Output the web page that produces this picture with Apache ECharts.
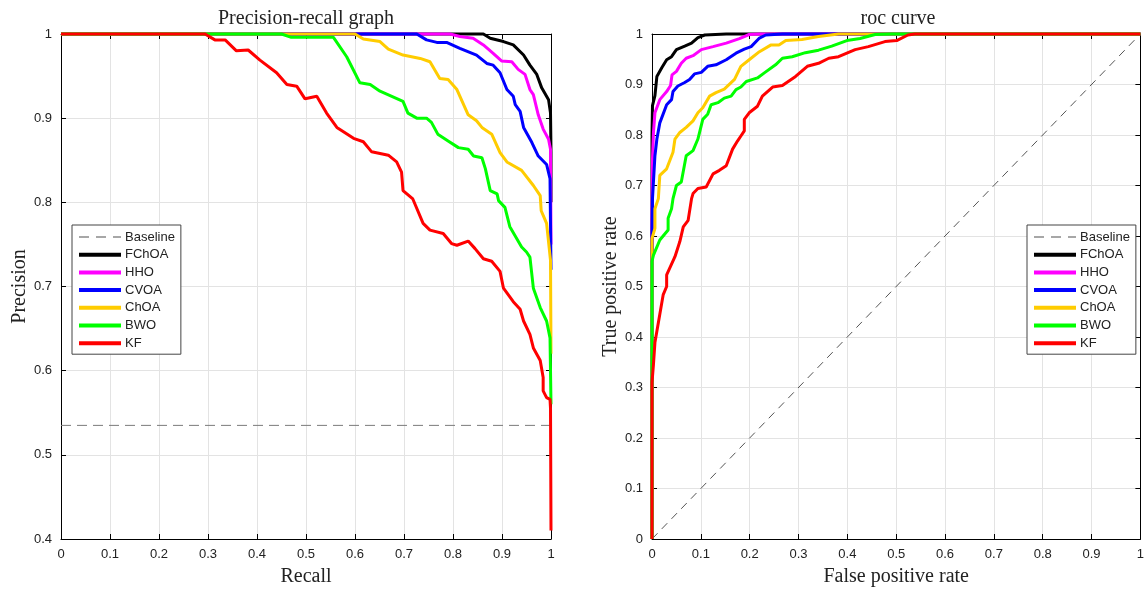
<!DOCTYPE html>
<html><head><meta charset="utf-8">
<script src="https://cdn.jsdelivr.net/npm/echarts@6/dist/echarts.min.js"></script>
<style>html,body{margin:0;padding:0;background:#fff}#c{width:1147px;height:592px}</style>
</head><body><div id="c"></div>
<script>
// ---------- Data ----------
const seriesNames = ['Baseline','FChOA','HHO','CVOA','ChOA','BWO','KF'];

// Precision-recall curves: [recall, precision]
const prBaseline = [[0,0.535],[1,0.535]];
const prFChOA = [[0,1],[0.862,1],[0.876,0.995],[0.903,0.991],[0.923,0.987],[0.944,0.975],[0.957,0.963],[0.971,0.952],[0.981,0.936],[0.995,0.922],[0.999,0.906],[1,0.86],[1,0.80]];
const prHHO = [[0,1],[0.794,1],[0.814,0.997],[0.841,0.995],[0.862,0.987],[0.882,0.977],[0.899,0.968],[0.920,0.967],[0.933,0.958],[0.947,0.952],[0.957,0.934],[0.964,0.928],[0.974,0.904],[0.984,0.887],[0.995,0.875],[0.999,0.863],[1,0.75]];
const prCVOA = [[0,1],[0.726,1],[0.746,0.993],[0.767,0.990],[0.787,0.990],[0.814,0.983],[0.848,0.975],[0.869,0.965],[0.882,0.963],[0.896,0.954],[0.910,0.934],[0.923,0.926],[0.927,0.916],[0.937,0.908],[0.944,0.889],[0.961,0.871],[0.974,0.855],[0.991,0.845],[0.998,0.828],[1,0.72]];
const prChOA = [[0,1],[0.60,1],[0.617,0.994],[0.651,0.991],[0.668,0.982],[0.698,0.975],[0.733,0.971],[0.753,0.967],[0.773,0.947],[0.790,0.946],[0.808,0.934],[0.831,0.904],[0.848,0.897],[0.859,0.889],[0.879,0.881],[0.896,0.859],[0.910,0.848],[0.940,0.838],[0.964,0.820],[0.978,0.808],[0.980,0.790],[0.991,0.775],[0.999,0.731],[1,0.62]];
const prBWO = [[0,1],[0.45,1],[0.47,0.996],[0.556,0.996],[0.583,0.973],[0.610,0.942],[0.631,0.940],[0.651,0.932],[0.698,0.920],[0.708,0.906],[0.726,0.900],[0.746,0.900],[0.756,0.895],[0.769,0.881],[0.790,0.873],[0.811,0.865],[0.831,0.863],[0.842,0.855],[0.859,0.853],[0.866,0.840],[0.876,0.814],[0.890,0.810],[0.893,0.802],[0.906,0.794],[0.916,0.771],[0.940,0.747],[0.950,0.741],[0.957,0.735],[0.964,0.698],[0.978,0.675],[0.991,0.659],[0.998,0.639],[1,0.56]];
const prKF = [[0,1],[0.294,1],[0.314,0.993],[0.335,0.993],[0.358,0.980],[0.382,0.981],[0.406,0.969],[0.44,0.954],[0.461,0.940],[0.481,0.938],[0.498,0.923],[0.522,0.926],[0.542,0.906],[0.563,0.889],[0.597,0.876],[0.617,0.872],[0.634,0.860],[0.668,0.856],[0.685,0.848],[0.695,0.836],[0.698,0.814],[0.718,0.804],[0.739,0.775],[0.753,0.767],[0.780,0.763],[0.797,0.751],[0.808,0.749],[0.831,0.754],[0.845,0.745],[0.862,0.733],[0.879,0.730],[0.896,0.718],[0.903,0.698],[0.923,0.682],[0.937,0.673],[0.944,0.659],[0.957,0.643],[0.964,0.627],[0.978,0.612],[0.984,0.592],[0.984,0.576],[0.991,0.568],[0.998,0.566],[0.999,0.555],[1,0.41]];

// ROC curves: [false positive rate, true positive rate]
const rocBaseline = [[0,0],[1,1]];
const rocFChOA = [[0,0],[0,0.80],[0.001,0.858],[0.006,0.878],[0.010,0.916],[0.020,0.933],[0.030,0.949],[0.040,0.955],[0.050,0.969],[0.067,0.976],[0.081,0.982],[0.094,0.993],[0.108,0.998],[0.152,1],[1,1]];
const rocHHO = [[0,0],[0,0.65],[0.001,0.752],[0.003,0.805],[0.006,0.844],[0.016,0.870],[0.030,0.886],[0.038,0.898],[0.041,0.919],[0.050,0.926],[0.060,0.942],[0.070,0.952],[0.084,0.957],[0.101,0.969],[0.125,0.975],[0.152,0.982],[0.179,0.991],[0.199,0.999],[0.22,1],[1,1]];
const rocCVOA = [[0,0],[0,0.60],[0.001,0.674],[0.006,0.759],[0.010,0.792],[0.016,0.824],[0.030,0.860],[0.040,0.870],[0.043,0.886],[0.053,0.897],[0.067,0.904],[0.077,0.910],[0.087,0.921],[0.101,0.924],[0.114,0.936],[0.131,0.939],[0.152,0.949],[0.172,0.962],[0.189,0.970],[0.203,0.975],[0.220,0.992],[0.233,0.998],[0.267,1],[1,1]];
const rocChOA = [[0,0],[0,0.595],[0.006,0.615],[0.006,0.654],[0.013,0.674],[0.016,0.720],[0.030,0.733],[0.043,0.766],[0.047,0.792],[0.057,0.805],[0.070,0.815],[0.084,0.828],[0.094,0.844],[0.104,0.854],[0.118,0.877],[0.131,0.884],[0.148,0.891],[0.169,0.910],[0.182,0.936],[0.199,0.949],[0.220,0.965],[0.243,0.978],[0.260,0.978],[0.274,0.987],[0.307,0.989],[0.341,0.995],[0.382,1],[1,1]];
const rocBWO = [[0,0],[0,0.55],[0.003,0.562],[0.016,0.592],[0.033,0.612],[0.033,0.635],[0.040,0.654],[0.043,0.674],[0.050,0.700],[0.060,0.707],[0.070,0.759],[0.084,0.769],[0.094,0.792],[0.104,0.831],[0.114,0.841],[0.121,0.860],[0.135,0.864],[0.148,0.873],[0.162,0.877],[0.172,0.890],[0.182,0.895],[0.193,0.906],[0.216,0.913],[0.230,0.923],[0.253,0.939],[0.267,0.952],[0.287,0.955],[0.314,0.963],[0.341,0.968],[0.368,0.976],[0.399,0.987],[0.426,0.991],[0.457,0.999],[0.49,1],[1,1]];
const rocKF = [[0,0],[0,0.31],[0.003,0.346],[0.006,0.389],[0.016,0.445],[0.023,0.484],[0.030,0.500],[0.030,0.523],[0.047,0.559],[0.057,0.589],[0.064,0.618],[0.074,0.631],[0.081,0.674],[0.084,0.684],[0.094,0.694],[0.111,0.697],[0.125,0.723],[0.138,0.730],[0.152,0.739],[0.165,0.772],[0.175,0.788],[0.182,0.798],[0.189,0.808],[0.189,0.831],[0.199,0.844],[0.216,0.857],[0.226,0.877],[0.247,0.895],[0.267,0.898],[0.294,0.916],[0.318,0.936],[0.341,0.942],[0.362,0.952],[0.382,0.955],[0.416,0.969],[0.443,0.975],[0.477,0.985],[0.501,0.987],[0.524,0.998],[0.538,1],[1,1]];

// ---------- Styles ----------
const colors = {FChOA:'#000000',HHO:'#ff00ff',CVOA:'#0000ff',ChOA:'#ffcc00',BWO:'#00ff00',KF:'#ff0000'};
const SANS = 'Liberation Sans, Arial, sans-serif';
const SERIF = 'Liberation Serif, Times New Roman, serif';
const TXT = '#222';

const chart = echarts.init(document.getElementById('c'), null, {renderer:'canvas'});

function mainX(gi, name){
  return {gridIndex:gi, type:'value', min:0, max:1, interval:0.1, position:'bottom',
    name:name, nameLocation:'middle', nameGap:28,
    nameTextStyle:{fontFamily:SERIF, fontSize:20, color:TXT},
    axisLine:{show:true, onZero:false, lineStyle:{color:'#000', width:1}},
    axisTick:{show:true, inside:true, length:5, lineStyle:{color:'#000'}},
    axisLabel:{fontFamily:SANS, fontSize:13, color:TXT, margin:9,
      formatter:v=>String(+v.toFixed(1))},
    splitLine:{show:true, lineStyle:{color:'#e3e3e3', width:1}}};
}
function topX(gi){
  return {gridIndex:gi, type:'value', min:0, max:1, interval:0.1, position:'top',
    axisLine:{show:true, onZero:false, lineStyle:{color:'#000', width:1}},
    axisTick:{show:true, inside:true, length:5, lineStyle:{color:'#000'}},
    axisLabel:{show:false}, splitLine:{show:false}};
}
function mainY(gi, name, min, gap){
  return {gridIndex:gi, type:'value', min:min, max:1, interval:0.1, position:'left',
    name:name, nameLocation:'middle', nameGap:gap,
    nameTextStyle:{fontFamily:SERIF, fontSize:20, color:TXT},
    axisLine:{show:true, onZero:false, lineStyle:{color:'#000', width:1}},
    axisTick:{show:true, inside:true, length:5, lineStyle:{color:'#000'}},
    axisLabel:{fontFamily:SANS, fontSize:13, color:TXT, margin:9,
      formatter:v=>String(+v.toFixed(1))},
    splitLine:{show:true, lineStyle:{color:'#e3e3e3', width:1}}};
}
function rightY(gi, min){
  return {gridIndex:gi, type:'value', min:min, max:1, interval:0.1, position:'right',
    axisLine:{show:true, onZero:false, lineStyle:{color:'#000', width:1}},
    axisTick:{show:true, inside:true, length:5, lineStyle:{color:'#000'}},
    axisLabel:{show:false}, splitLine:{show:false}};
}

function baselineSeries(data, xi, yi, color, dash){
  return {name:'Baseline', type:'line', xAxisIndex:xi, yAxisIndex:yi, data:data,
    symbol:'none', clip:false, z:2, animation:false,
    itemStyle:{color:color},
    lineStyle:{color:color, width:1, type:dash}};
}
function curve(name, data, xi, yi){
  return {name:name, type:'line', xAxisIndex:xi, yAxisIndex:yi, data:data,
    symbol:'none', clip:false, z:3, animation:false,
    itemStyle:{color:colors[name]},
    lineStyle:{color:colors[name], width:3}};
}

function legendAt(left){
  const items = seriesNames.map(n => n === 'Baseline'
    ? {name:n, lineStyle:{width:1.3, color:'#8a8a8a', type:[10,7]}}
    : {name:n, lineStyle:{width:4}});
  return {show:true, orient:'vertical', left:left, top:225, data:items,
    itemWidth:42, itemHeight:14, itemGap:3.7, padding:[5,6,4,5],
    itemStyle:{opacity:0},
    backgroundColor:'#fff', borderColor:'#444', borderWidth:1, borderRadius:0,
    textStyle:{fontFamily:SANS, fontSize:13, color:TXT, lineHeight:14, padding:[0,0,0,-1]},
    selectedMode:false};
}

const option = {
  animation:false,
  backgroundColor:'#fff',
  title:[
    {text:'Precision-recall graph', left:306, top:9, textAlign:'center', padding:0,
     textStyle:{fontFamily:SERIF, fontSize:20, fontWeight:'normal', color:TXT}},
    {text:'roc curve', left:898, top:9, textAlign:'center', padding:0,
     textStyle:{fontFamily:SERIF, fontSize:20, fontWeight:'normal', color:TXT}}
  ],
  grid:[
    {left:61, top:34, width:490, height:509, show:false},
    {left:652, top:34, width:492, height:509, show:false}
  ],
  xAxis:[mainX(0,'Recall'), topX(0), mainX(1,'False positive rate'), topX(1)],
  yAxis:[mainY(0,'Precision',0.4,30), rightY(0,0.4), mainY(1,'True positive rate',0,26), rightY(1,0)],
  legend:[legendAt(72), legendAt(1027)],
  series:[
    baselineSeries(prBaseline,0,0,'#7a7a7a',[10,6]),
    curve('FChOA',prFChOA,0,0),
    curve('HHO',prHHO,0,0),
    curve('CVOA',prCVOA,0,0),
    curve('ChOA',prChOA,0,0),
    curve('BWO',prBWO,0,0),
    curve('KF',prKF,0,0),
    baselineSeries(rocBaseline,2,2,'#555555',[8,6]),
    curve('FChOA',rocFChOA,2,2),
    curve('HHO',rocHHO,2,2),
    curve('CVOA',rocCVOA,2,2),
    curve('ChOA',rocChOA,2,2),
    curve('BWO',rocBWO,2,2),
    curve('KF',rocKF,2,2)
  ]
};
chart.setOption(option);
</script>
</body></html>
